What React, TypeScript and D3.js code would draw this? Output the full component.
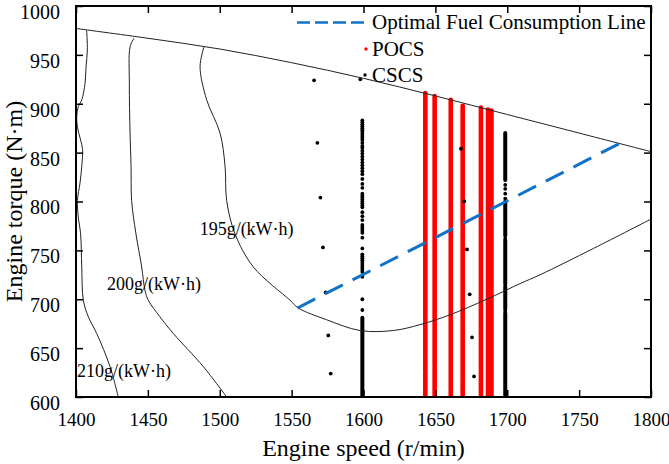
import React, { useEffect, useRef } from "react";
import * as d3 from "d3";

// axis ticks
const speedTicks = [1400, 1450, 1500, 1550, 1600, 1650, 1700, 1750, 1800];
const torqueTicks = [600, 650, 700, 750, 800, 850, 900, 950, 1000];

// external characteristic (max torque line)
const maxTorqueLine = [
  [1400, 977], [1450, 967], [1500, 956], [1550, 942], [1600, 926],
  [1650, 908], [1700, 889], [1750, 870], [1800, 851],
];

// BSFC contours [speed, torque]
const bsfc210 = [
  [1407.4, 975], [1407.9, 955], [1407, 938], [1406.3, 921], [1404, 904],
  [1401.6, 897], [1400.5, 887], [1401, 876], [1403.2, 863], [1404.6, 853],
  [1404, 836], [1402.8, 819], [1401, 801], [1401.6, 784], [1403.2, 767],
  [1404, 733], [1405.1, 699], [1408.6, 682], [1414.4, 665], [1423.7, 631],
  [1429.4, 600],
];
const bsfc200 = [
  [1440.3, 967], [1437.6, 958], [1437.1, 921], [1437.6, 870], [1438.3, 836],
  [1438.7, 801], [1441.7, 767], [1445.7, 733], [1448, 709], [1450.3, 699],
  [1458.4, 682], [1467.7, 665], [1488.6, 631], [1504.8, 600],
];
const bsfc195 = [
  [1489, 958], [1486.3, 938], [1490.9, 904], [1500.2, 870], [1503.7, 836],
  [1504.8, 801], [1510.6, 767], [1523.4, 733], [1548.9, 699], [1554.7, 691],
  [1574.4, 679], [1597.6, 668], [1620.7, 668], [1639.3, 674], [1660, 684],
  [1685.7, 700], [1708.9, 716], [1722.8, 725], [1760, 752], [1800, 782],
];
const contourLabels = [
  { text: "195g/(kW\u00b7h)", speed: 1486, torque: 766 },
  { text: "200g/(kW\u00b7h)", speed: 1421.6, torque: 709.5 },
  { text: "210g/(kW\u00b7h)", speed: 1400.7, torque: 620.5 },
];

// optimal fuel consumption line
const optimalLine = [[1554, 691], [1779, 860]];

// POCS operating points: dense columns [from, to]
const pocsColumns = [
  { speed: 1643, segs: [[600, 625], [627, 639], [641, 678], [680, 911]] },
  { speed: 1649.5, segs: [[600, 630], [632, 908]] },
  { speed: 1660.7, segs: [[600, 904]] },
  { speed: 1669, segs: [[600, 613], [615, 673], [675, 898]] },
  { speed: 1681.7, segs: [[600, 896]] },
  { speed: 1686.6, segs: [[600, 894]] },
  { speed: 1689, segs: [[600, 893]] },
];

// CSCS operating points
const cscsColumns = [
  { speed: 1599.2, segs: [[600, 681]] },
  { speed: 1698.6, segs: [[600, 686], [690, 712], [716, 760], [765, 800], [822, 870]] },
];
const cscs1600 = [
  883, 881, 879, 877, 875, 873, 871, 869, 867, 865, 863, 860, 857, 855, 852,
  849, 846, 843, 840, 837, 834, 831, 828, 823, 818, 814, 808, 806, 804, 802,
  800, 798, 796, 794, 789, 785, 781, 776, 774, 772, 770, 768, 763, 752, 746,
  744, 742, 740, 738, 736, 734, 732, 730, 728, 723, 700, 689,
];
const cscs1700 = [688, 714, 762, 803, 808, 813, 817];
const cscsScatter = [
  [1565.6, 924], [1567.9, 860], [1570, 804], [1571.8, 753], [1573.7, 707],
  [1575.5, 663], [1577.2, 624], [1597.8, 925],
  [1667.8, 854], [1670.1, 800], [1672, 751], [1673.9, 705], [1675.5, 661],
  [1676.9, 621],
];

const legendItems = ["Optimal Fuel Consumption Line", "POCS", "CSCS"];

const FONT = "'Liberation Serif', 'Times New Roman', serif";

const App = () => {
  const container = useRef<SVGSVGElement>(null);

  useEffect(() => {
    const el = container.current;
    if (!el) return;
    d3.select(el).selectAll("*").remove();

    const W = 669, H = 464;
    const margin = { top: 6, right: 18, bottom: 67, left: 76 };
    const width = W - margin.left - margin.right;
    const height = H - margin.top - margin.bottom;

    const svg = d3.select(el);
    const g = svg.append("g").attr("transform", `translate(${margin.left},${margin.top})`);

    const x = d3.scaleLinear().domain([1400, 1800]).range([0, width]);
    const y = d3.scaleLinear().domain([600, 1000]).range([height, 0]);

    const clipId = "plotclip";
    g.append("clipPath").attr("id", clipId)
      .append("rect").attr("width", width).attr("height", height);

    const plot = g.append("g").attr("clip-path", `url(#${clipId})`);

    // POCS columns
    pocsColumns.forEach((c) => {
      plot.selectAll(null).data(c.segs).enter().append("line")
        .attr("x1", x(c.speed)).attr("x2", x(c.speed))
        .attr("y1", (d) => y(d[0])).attr("y2", (d) => y(d[1]))
        .attr("stroke", "#ff0000").attr("stroke-width", 4.6)
        .attr("stroke-linecap", "round");
    });

    // CSCS columns
    cscsColumns.forEach((c) => {
      plot.selectAll(null).data(c.segs).enter().append("line")
        .attr("x1", x(c.speed)).attr("x2", x(c.speed))
        .attr("y1", (d) => y(d[0])).attr("y2", (d) => y(d[1]))
        .attr("stroke", "#000").attr("stroke-width", 4)
        .attr("stroke-linecap", "round");
    });
    plot.selectAll(null).data(cscs1600).enter().append("circle")
      .attr("cx", x(1599.2)).attr("cy", (d) => y(d)).attr("r", 1.9).attr("fill", "#000");
    plot.selectAll(null).data(cscs1700).enter().append("circle")
      .attr("cx", x(1698.6)).attr("cy", (d) => y(d)).attr("r", 1.9).attr("fill", "#000");
    plot.selectAll(null).data(cscsScatter).enter().append("circle")
      .attr("cx", (d) => x(d[0])).attr("cy", (d) => y(d[1])).attr("r", 1.9).attr("fill", "#000");

    // contour lines
    const line = d3.line<number[]>()
      .x((d) => x(d[0])).y((d) => y(d[1]))
      .curve(d3.curveCatmullRom.alpha(0.5));

    [maxTorqueLine, bsfc210, bsfc200, bsfc195].forEach((c) => {
      plot.append("path").datum(c)
        .attr("d", line)
        .attr("fill", "none").attr("stroke", "#222").attr("stroke-width", 1);
    });

    // optimal line
    plot.append("path").datum(optimalLine)
      .attr("d", d3.line<number[]>().x((d) => x(d[0])).y((d) => y(d[1])))
      .attr("fill", "none").attr("stroke", "#1272c6").attr("stroke-width", 3)
      .attr("stroke-dasharray", "20,11");

    // contour labels
    g.selectAll(null).data(contourLabels).enter().append("text")
      .attr("x", (d) => x(d.speed)).attr("y", (d) => y(d.torque))
      .style("font-family", FONT).style("font-size", "18px")
      .text((d) => d.text);

    // frame
    g.append("rect").attr("width", width).attr("height", height)
      .attr("fill", "none").attr("stroke", "#000").attr("stroke-width", 2);

    // axes with inward ticks
    const ax = (sel, axis, size) => {
      sel.call(axis);
      sel.select(".domain").remove();
      sel.selectAll(".tick line").attr("stroke", "#000").attr("stroke-width", 1.5);
      sel.selectAll("text").style("font-family", FONT).style("font-size", size).attr("fill", "#000");
    };

    ax(g.append("g").attr("transform", `translate(0,${height})`),
      d3.axisBottom(x).tickValues(speedTicks).tickSize(-7).tickPadding(16).tickFormat(d3.format("d")), "19px");
    ax(g.append("g"),
      d3.axisTop(x).tickValues(speedTicks).tickSize(-7).tickFormat(() => ""), "19px");
    const yAx = g.append("g");
    ax(yAx,
      d3.axisLeft(y).tickValues(torqueTicks).tickSize(-7).tickPadding(16).tickFormat(d3.format("d")), "20px");
    yAx.selectAll("text").attr("dy", "0.62em");
    ax(g.append("g").attr("transform", `translate(${width},0)`),
      d3.axisRight(y).tickValues(torqueTicks).tickSize(-7).tickFormat(() => ""), "20px");

    // axis titles
    svg.append("text")
      .attr("x", margin.left + width / 2).attr("y", 456)
      .attr("text-anchor", "middle")
      .style("font-family", FONT).style("font-size", "24px")
      .text("Engine speed (r/min)");
    svg.append("text")
      .attr("transform", `translate(22,${margin.top + height / 2}) rotate(-90)`)
      .attr("text-anchor", "middle")
      .style("font-family", FONT).style("font-size", "24px")
      .text("Engine torque (N\u00b7m)");

    // legend
    const lg = svg.append("g");
    lg.append("line")
      .attr("x1", 297).attr("x2", 365).attr("y1", 22.5).attr("y2", 22.5)
      .attr("stroke", "#1272c6").attr("stroke-width", 2.5)
      .attr("stroke-dasharray", "13,5");
    lg.append("circle").attr("cx", 366).attr("cy", 49).attr("r", 1.7).attr("fill", "#ff0000");
    lg.append("circle").attr("cx", 365).attr("cy", 75).attr("r", 1.7).attr("fill", "#000");
    lg.selectAll(null).data(legendItems).enter().append("text")
      .attr("x", 372).attr("y", (d, i) => 29 + i * 26.5)
      .style("font-family", FONT).style("font-size", "21px")
      .text((d) => d);
  }, []);

  return (
    <svg ref={container} width={669} height={464}
      style={{ position: "absolute", left: 0, top: 0, background: "#fff" }} />
  );
};

export default App;
